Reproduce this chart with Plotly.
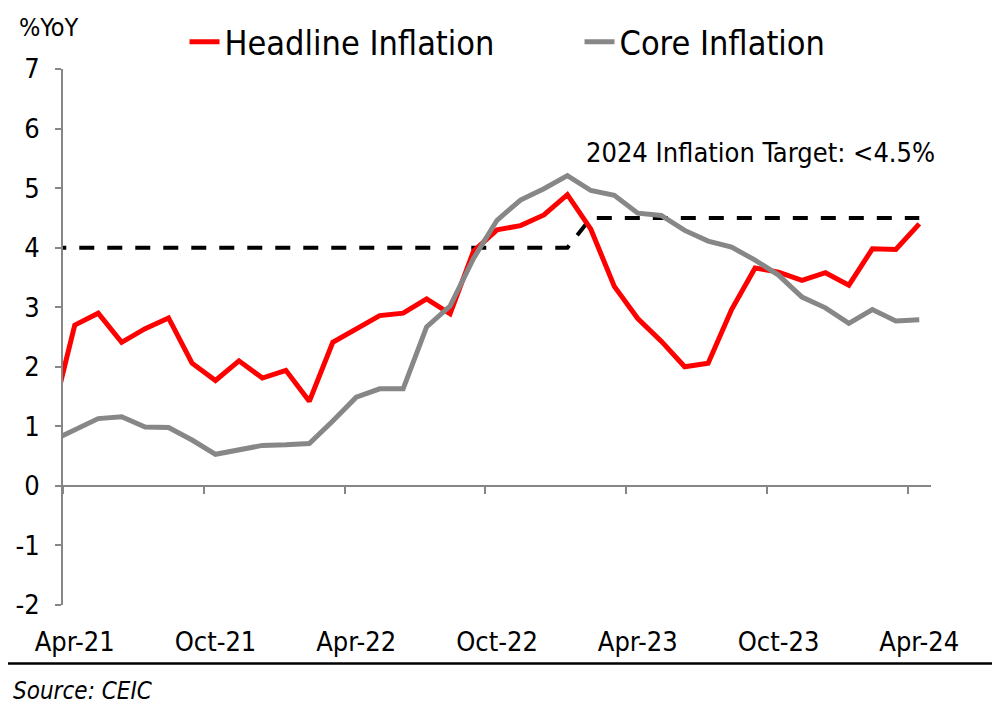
import plotly.graph_objects as go
import pandas as pd

# Monthly categories (Mar-21 point sits just left of the axis and is clipped, as in the original)
months = pd.date_range("2021-03-01", "2024-04-01", freq="MS").strftime("%b-%y").tolist()

headline = [1.10,
            2.70, 2.90, 2.41, 2.64, 2.82, 2.06, 1.77, 2.10, 1.81,
            1.94, 1.42, 2.41, 2.64, 2.86, 2.90, 3.14, 2.89, 3.94, 4.30, 4.37, 4.55,
            4.89, 4.31, 3.35, 2.81, 2.43, 2.00, 2.06, 2.96, 3.66, 3.59, 3.45, 3.58,
            3.37, 3.98, 3.97, 4.40]

core = [0.75,
        0.95, 1.13, 1.16, 0.99, 0.98, 0.77, 0.53, 0.61, 0.68,
        0.69, 0.71, 1.09, 1.49, 1.63, 1.63, 2.67, 3.02, 3.82, 4.46, 4.80, 4.99,
        5.21, 4.96, 4.88, 4.58, 4.54, 4.29, 4.11, 4.01, 3.79, 3.54, 3.17, 2.99,
        2.73, 2.96, 2.77, 2.79]

target = [4.0] * 23 + [4.5] * 15

tick_labels = ["Apr-21", "Oct-21", "Apr-22", "Oct-22", "Apr-23", "Oct-23", "Apr-24"]
y_ticks = [-2, -1, 0, 1, 2, 3, 4, 5, 6, 7]
y_tick_text = ["-2", "-1", "0", "1", "2", "3", "4", "5", "6", "7"]

FONT = "DejaVu Sans Condensed, DejaVu Sans, sans-serif"
AXIS_GRAY = "#868686"

x = list(range(len(months)))
tick_idx = [months.index(t) for t in tick_labels]
boundary_ticks = [i - 0.5 for i in tick_idx]
x_range = [0.5, len(months) - 0.5]

fig = go.Figure()
fig.add_trace(go.Scatter(x=x, y=target, mode="lines", name="Target", showlegend=False,
                         line=dict(color="black", width=4, dash="15px,13px"),
                         hovertext=months, hoverinfo="text+y"))
fig.add_trace(go.Scatter(x=x, y=headline, mode="lines", name="Headline Inflation",
                         line=dict(color="#FF0000", width=5),
                         hovertext=months, hoverinfo="text+y"))
fig.add_trace(go.Scatter(x=x, y=core, mode="lines", name="Core Inflation",
                         line=dict(color="#878787", width=5),
                         hovertext=months, hoverinfo="text+y"))
# invisible trace so the zero-line axis (x2) is active
fig.add_trace(go.Scatter(x=[x[1]], y=[None], xaxis="x2", showlegend=False, hoverinfo="skip"))

fig.update_layout(
    width=992, height=704,
    margin=dict(l=55, r=69, t=61, b=107, autoexpand=False),
    paper_bgcolor="white", plot_bgcolor="white",
    font=dict(family=FONT, size=27, color="black"),
    xaxis=dict(
        range=x_range, showgrid=False, zeroline=False, showline=False, automargin=False,
        tickmode="array", tickvals=tick_idx, ticktext=tick_labels,
        ticks="", ticklabelstandoff=18,
        tickfont=dict(family=FONT, size=27, color="black"),
    ),
    xaxis2=dict(
        overlaying="x", matches="x", anchor="free", position=2 / 9, side="bottom",
        range=x_range, showgrid=False, zeroline=False, automargin=False,
        showline=True, linecolor=AXIS_GRAY, linewidth=2,
        tickmode="array", tickvals=boundary_ticks, showticklabels=False,
        ticks="outside", ticklen=7, tickwidth=2, tickcolor=AXIS_GRAY,
    ),
    yaxis=dict(
        range=[-2, 7], tickmode="array", tickvals=y_ticks, ticktext=y_tick_text,
        showgrid=False, zeroline=False, automargin=False,
        showline=True, linecolor=AXIS_GRAY, linewidth=2,
        ticks="outside", ticklen=6, tickwidth=2, tickcolor=AXIS_GRAY,
        ticklabelstandoff=10,
        tickfont=dict(family=FONT, size=27, color="black"),
    ),
    legend=dict(
        orientation="h", x=0.14, xanchor="left", y=1.05, yanchor="middle",
        font=dict(family=FONT, size=34, color="black"),
        entrywidth=350, entrywidthmode="pixels",
        bgcolor="rgba(0,0,0,0)",
    ),
    showlegend=True,
)

fig.add_annotation(text="%YoY", xref="paper", yref="paper", x=-0.016, y=1.078,
                   xanchor="center", yanchor="middle", showarrow=False,
                   font=dict(family=FONT, size=25, color="black"))
fig.add_annotation(text="2024 Inflation Target: <4.5%", xref="paper", yref="paper",
                   x=1.007, y=0.845, xanchor="right", yanchor="middle", showarrow=False,
                   font=dict(family=FONT, size=27, color="black"))
fig.add_annotation(text="<i>Source: CEIC</i>", xref="paper", yref="paper",
                   x=-0.06, y=-0.161, xanchor="left", yanchor="middle", showarrow=False,
                   font=dict(family=FONT, size=24, color="black"))
fig.add_shape(type="line", xref="paper", yref="paper", x0=-0.07, x1=1.074,
              y0=-0.109, y1=-0.109, line=dict(color="black", width=2.5))

fig.write_html("out.html")
